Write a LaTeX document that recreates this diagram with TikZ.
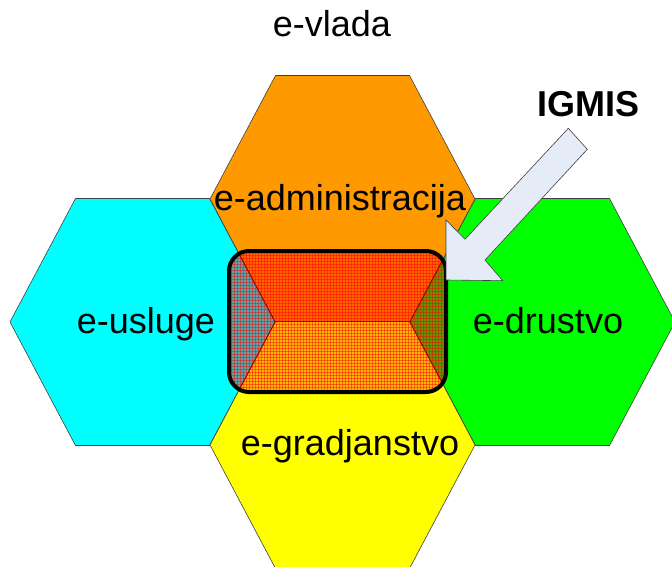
\documentclass[tikz,border=0pt]{standalone}
\usepackage{fontspec}
\setmainfont{Liberation Sans}
\usetikzlibrary{patterns}

\definecolor{adminorange}{RGB}{255,153,0}
\definecolor{uslugecyan}{RGB}{0,255,255}
\definecolor{drustvogreen}{RGB}{0,255,0}
\definecolor{gradyellow}{RGB}{255,255,0}
\definecolor{arrowfill}{RGB}{230,236,247}
% mixed colours inside the IGMIS box
\definecolor{mixtop}{RGB}{255,100,0}
\definecolor{mixbottom}{RGB}{255,180,10}
\definecolor{mixleft}{RGB}{90,165,165}
\definecolor{mixright}{RGB}{95,150,0}

% hexagon around centre (#1,#2), path options #3
\newcommand{\hexcell}[3]{%
  \path[#3] (#1-132.5,#2) -- (#1-67,#2-123.5) -- (#1+67,#2-123.5)
    -- (#1+132.5,#2) -- (#1+67,#2+123.5) -- (#1-67,#2+123.5) -- cycle;}

\tikzset{
  hexedge/.style={draw=black!75, line width=0.6pt},
  hatched/.style={fill=#1, draw=red!60!black, line width=0.8pt,
    postaction={pattern=grid, pattern color=red, opacity=0.45}},
  bigtext/.style={font=\fontsize{36}{40}\selectfont, anchor=base, inner sep=0pt},
}

\begin{document}
\begin{tikzpicture}[x=1pt, y=-1pt]
    \useasboundingbox (0,0) rectangle (672,567);
    \begin{scope}
    \clip (0,0) rectangle (672,567);
    \hexcell{342.5}{199}{hexedge, fill=adminorange}
    \hexcell{142.5}{322}{hexedge, fill=uslugecyan}
    \hexcell{542.5}{322}{hexedge, fill=drustvogreen}
    \hexcell{342.5}{445}{hexedge, fill=gradyellow}
    \end{scope}

    % overlap inside the IGMIS box
    \begin{scope}
    \clip[rounded corners=20pt] (229,251) rectangle (446,392);
    \hexcell{342.5}{199}{hatched=mixtop}
    \hexcell{142.5}{322}{hatched=mixleft}
    \hexcell{542.5}{322}{hatched=mixright}
    \hexcell{342.5}{445}{hatched=mixbottom}
    \end{scope}
    \draw[line width=4pt, rounded corners=20pt] (229,251) rectangle (446,392);

    \node[bigtext] (vlada) at (332,37) {e-vlada};
    \node[bigtext] (admin) at (340,210) {e-administracija};
    \node[bigtext] (usluge) at (146,333) {e-usluge};
    \node[bigtext] (drustvo) at (548,333) {e-drustvo};
    \node[bigtext] (gradjanstvo) at (350,455) {e-gradjanstvo};
    \node[bigtext, font=\fontsize{36}{40}\selectfont\bfseries] (igmis) at (588,117) {IGMIS};

    % block arrow
    \draw[fill=arrowfill, draw=black!75, line width=0.6pt]
      (446,280) -- (446,220) -- (465,239.3) -- (568.3,128.3)
      -- (587.3,149.3) -- (485,260) -- (502.7,280.7) -- cycle;
\end{tikzpicture}
\end{document}
